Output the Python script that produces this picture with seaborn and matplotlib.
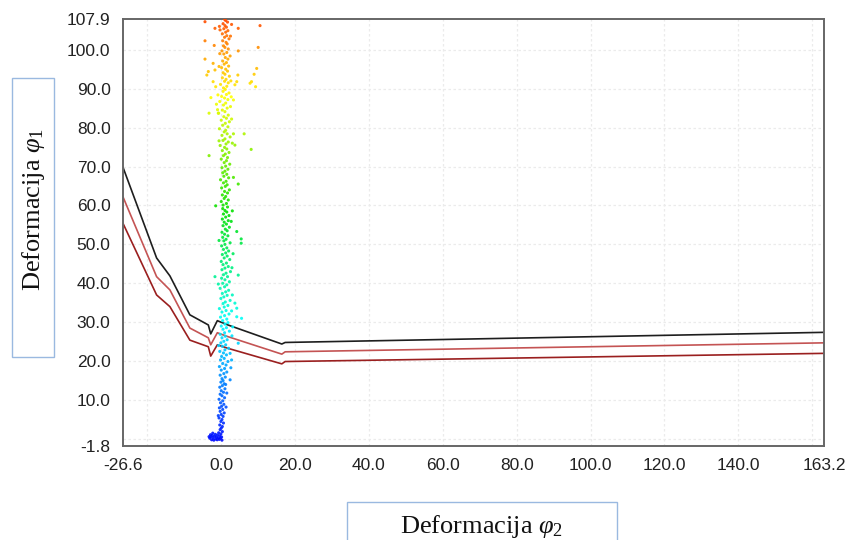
import matplotlib
matplotlib.use("Agg")
import matplotlib.pyplot as plt
from matplotlib.colors import LinearSegmentedColormap
from matplotlib.patches import Rectangle
import seaborn as sns
import pandas as pd

# ---------------- data ----------------
line_x = [-26.6, -17.5, -13.9, -8.5, -3.5, -2.85, -1.06, 1.8, 16.4, 17.3, 163.2]
upper_y = [69.8, 46.5, 41.9, 31.9, 29.3, 27.0, 30.4, 29.3, 24.4, 24.8, 27.4]
middle_y = [62.2, 41.7, 38.3, 28.5, 26.0, 24.2, 27.3, 26.3, 21.8, 22.4, 24.7]
lower_y = [55.4, 37.0, 34.0, 25.4, 23.7, 21.3, 24.2, 23.3, 19.3, 19.9, 22.0]

core_pts = [
    (-3.1,0.2),(-2.8,0.6),(-2.6,-0.2),(-2.4,0.9),(-2.2,0.3),(-2.0,-0.3),(-1.8,0.7),(-1.6,1.2),(-1.5,0.0),
    (-1.3,0.5),(-1.1,-0.2),(-1.0,1.0),(-0.8,0.3),(-0.7,1.6),(-0.5,-0.1),(-0.4,0.8),(-0.2,0.2),(-0.1,1.3),
    (0.1,0.5),(0.2,-0.3),(0.3,1.9),(-0.3,2.4),(0.0,2.8),(-2.9,1.1),(-2.3,1.5),(-3.3,0.6),
    (0.3,3.2),(-0.4,3.6),(0.6,4.1),(-0.1,4.5),(0.2,5.0),(-0.6,5.4),(0.5,5.8),(0.0,6.3),(0.8,6.7),(-0.3,7.1),
    (0.4,7.6),(-0.5,8.0),(0.1,8.4),(0.7,8.9),(-0.2,9.3),(0.4,9.8),(-0.6,10.2),(0.9,10.6),(0.2,11.1),(-0.3,11.5),
    (0.6,12.0),(0.0,12.4),(1.0,12.9),(-0.4,13.3),(0.3,13.7),(0.8,14.2),(-0.1,14.6),(0.5,15.0),
    (1.3,8.2),(1.5,11.8),(-0.8,6.0),(1.2,14.0),
    (0.2,15.5),(1.1,15.9),(-0.3,16.4),(0.7,16.8),(1.5,17.2),(0.0,17.7),(0.9,18.1),(-0.5,18.6),(1.3,19.0),
    (0.4,19.4),(1.8,19.9),(-0.2,20.3),(0.8,20.7),(0.1,21.2),(1.4,21.6),(0.6,22.1),(-0.4,22.5),(1.0,22.9),
    (2.0,23.3),(0.3,23.8),(1.2,24.2),(-0.1,24.7),(0.7,25.1),(1.6,25.5),(0.2,26.0),(1.1,26.4),(-0.3,26.9),
    (0.9,27.3),(2.2,27.7),(0.5,28.2),(1.4,28.6),(0.0,29.0),(1.0,29.5),(1.8,29.9),
    (2.6,18.3),(2.4,22.0),(-0.7,24.0),(2.9,26.5),(3.1,28.8),
    (0.4,30.4),(1.5,30.8),(-0.2,31.3),(0.9,31.7),(2.1,32.1),(0.2,32.6),(1.3,33.0),(-0.5,33.5),(0.8,33.9),
    (1.8,34.3),(0.5,34.8),(1.1,35.2),(2.4,35.6),(-0.1,36.1),(0.7,36.5),(1.6,36.9),(0.3,37.4),(1.2,37.8),
    (2.0,38.2),(-0.3,38.7),(0.9,39.1),(1.5,39.6),(0.4,40.0),(2.2,40.4),(1.0,40.9),(0.1,41.3),(1.7,41.7),
    (0.6,42.2),(1.3,42.6),(2.5,43.0),(0.2,43.5),(1.0,43.9),(1.9,44.3),(0.5,44.8),(1.4,45.2),(0.0,45.6),
    (2.3,46.1),(0.8,46.5),(1.6,47.0),(0.3,47.4),(1.2,47.8),(2.0,48.3),(0.6,48.7),(1.5,49.1),(0.1,49.6),
    (1.0,50.0),(2.4,50.4),(0.7,50.9),(1.3,51.3),(0.4,51.8),(1.8,52.2),(0.9,52.6),(0.2,53.1),(1.6,53.5),
    (1.1,53.9),(2.2,54.4),(0.5,54.8),(1.4,55.2),(0.8,55.7),(1.9,56.1),(0.3,56.5),(1.2,57.0),(2.1,57.4),
    (0.6,57.8),(1.5,58.3),(1.0,58.7),(0.4,59.2),(1.7,59.6),
    (2.8,32.9),(3.0,37.0),(-0.8,39.8),(2.9,44.0),(3.2,47.6),(-0.6,51.0),(2.7,55.9),(3.0,58.6),
    (0.5,60.1),(1.4,60.5),(0.0,61.0),(1.9,61.4),(0.8,61.8),(1.2,62.3),(0.3,62.7),(1.7,63.2),(0.9,63.6),
    (2.2,64.0),(0.1,64.5),(1.1,64.9),(1.6,65.3),(0.6,65.8),(1.3,66.2),(-0.2,66.6),(2.0,67.1),(0.7,67.5),
    (1.5,68.0),(0.4,68.4),(1.0,68.8),(1.8,69.3),(0.2,69.7),(1.2,70.1),(2.3,70.6),(0.8,71.0),(1.4,71.5),
    (0.0,71.9),(1.7,72.3),(0.6,72.8),(1.1,73.2),(2.1,73.6),(0.3,74.1),(1.5,74.5),(0.9,74.9),(-0.3,75.4),
    (1.3,75.8),(1.9,76.3),(0.5,76.7),(1.0,77.1),(2.4,77.6),(0.2,78.0),(1.6,78.4),(0.8,78.9),(1.2,79.3),
    (-0.5,79.7),(1.8,80.2),(0.4,80.6),(1.1,81.1),(2.2,81.5),(0.0,81.9),(1.4,82.4),(0.7,82.8),(1.9,83.2),
    (-0.7,83.7),(1.0,84.1),(0.3,84.5),(1.6,85.0),(2.5,85.4),(0.6,85.8),(1.2,86.3),(-0.4,86.7),(1.8,87.2),
    (0.9,87.6),(0.1,88.0),(1.4,88.5),(2.1,88.9),(0.5,89.3),(1.1,89.8),
    (-1.0,84.6),(-1.3,86.0),(2.8,82.2),(-0.9,88.4),(2.7,87.9),(3.0,76.0),
    (0.6,90.2),(1.5,90.6),(-0.2,91.1),(1.9,91.5),(0.9,91.9),(1.3,92.4),(0.3,92.8),(2.2,93.2),(1.0,93.7),
    (0.5,94.1),(1.7,94.5),(1.2,95.0),(0.1,95.4),(2.0,95.8),(0.8,96.3),(1.4,96.7),(0.4,97.1),(1.8,97.6),
    (1.1,98.0),(2.4,98.4),(0.7,98.9),(1.5,99.3),(0.2,99.7),(1.9,100.2),(1.0,100.6),(0.6,101.0),(1.6,101.5),
    (1.3,101.9),(0.4,102.3),(2.1,102.8),(0.9,103.2),(1.5,103.6),(0.3,104.1),(1.2,104.5),(1.8,104.9),
    (0.7,105.4),(1.4,105.8),(1.0,106.2),(0.5,106.7),(1.7,107.1),(1.2,107.5),(0.9,107.8),
    (-0.6,95.7),(2.6,92.0),(-0.4,99.0),(2.5,103.5),(-0.5,106.0),
]
outlier_pts = [
    (-4.4,107.2),(-1.7,105.5),(-0.34,105.1),(2.8,106.5),(4.6,105.5),(10.5,106.2),(-4.4,102.3),(-1.9,101.1),
    (4.6,99.7),(10.0,100.6),(-4.4,97.6),(-2.2,96.5),(-3.5,94.4),(-3.9,93.5),(-1.7,94.8),(4.5,93.5),
    (9.6,95.2),(8.9,93.7),(8.2,91.8),(7.8,91.4),(9.3,90.5),(3.7,91.0),(4.2,91.8),(-2.2,91.8),(-1.5,90.5),
    (-2.8,87.7),(3.3,87.1),(-3.3,83.7),(-0.8,83.7),
    (3.3,78.4),(6.2,78.4),(-0.6,76.6),(3.7,75.5),(8.1,74.4),(-3.3,72.8),(3.3,67.2),(4.6,65.5),(-1.5,59.9),
    (4.2,53.3),(5.4,51.4),(5.4,50.3),(-1.7,41.7),(4.6,42.1),(3.7,34.9),(4.2,33.6),(5.5,31.0),(4.2,31.4),
    (4.6,24.6),(2.8,20.3),(2.4,15.2),
]
scatter_x = [p[0] for p in core_pts + outlier_pts]
scatter_y = [p[1] for p in core_pts + outlier_pts]

x_ticks = [-26.6, 0.0, 20.0, 40.0, 60.0, 80.0, 100.0, 120.0, 140.0, 163.2]
y_ticks = [-1.8, 10.0, 20.0, 30.0, 40.0, 50.0, 60.0, 70.0, 80.0, 90.0, 100.0, 107.9]
x_grid = [-20, 0, 20, 40, 60, 80, 100, 120, 140, 160]
y_grid = [0, 10, 20, 30, 40, 50, 60, 70, 80, 90, 100]
x_label = r"Deformacija $\varphi_2$"
y_label = r"Deformacija $\varphi_1$"

# ---------------- style ----------------
sns.set_style("white")
plt.rcParams["font.family"] = ["Liberation Sans", "DejaVu Sans"]
plt.rcParams["mathtext.fontset"] = "custom"
plt.rcParams["mathtext.rm"] = "Liberation Serif"
plt.rcParams["mathtext.it"] = "Liberation Serif:italic"

fig = plt.figure(figsize=(8.5, 5.4), dpi=100)
ax = fig.add_axes([123/850, 1-446/540, (824-123)/850, (446-19)/540])

for gx in x_grid:
    ax.axvline(gx, color="#ebebeb", lw=0.9, ls=(0, (2, 2)), zorder=0)
for gy in y_grid:
    ax.axhline(gy, color="#ebebeb", lw=0.9, ls=(0, (2, 2)), zorder=0)

sns.lineplot(x=line_x, y=upper_y, sort=False, estimator=None, color="#1e1e1e", lw=1.2, ax=ax, zorder=2)
sns.lineplot(x=line_x, y=middle_y, sort=False, estimator=None, color="#c45454", lw=1.2, ax=ax, zorder=2)
sns.lineplot(x=line_x, y=lower_y, sort=False, estimator=None, color="#9a1f1f", lw=1.2, ax=ax, zorder=2)

cmap = LinearSegmentedColormap.from_list(
    "rainbow_y",
    [(0.0, "#0000ff"), (0.29, "#00ffff"), (0.545, "#00e000"), (0.82, "#ffff00"), (1.0, "#ff4a00")])
df = pd.DataFrame({"x": scatter_x, "y": scatter_y})
sns.scatterplot(data=df, x="x", y="y", hue="y", palette=cmap, hue_norm=(-1.8, 107.9),
                legend=False, s=5, linewidth=0, alpha=0.9, ax=ax, zorder=3)

ax.set_xlim(-26.6, 163.2)
ax.set_ylim(-1.8, 107.9)
ax.set_xticks(x_ticks)
ax.set_yticks(y_ticks)
ax.set_xticklabels([f"{v:.1f}" for v in x_ticks])
ax.set_yticklabels([f"{v:.1f}" for v in y_ticks])
ax.tick_params(axis="both", labelsize=12.5, labelcolor="#222222", color="#555555",
               length=6, width=1.2, direction="out", pad=3)
ax.set_xlabel("")
ax.set_ylabel("")
for sp in ax.spines.values():
    sp.set_color("#666666")
    sp.set_linewidth(1.4)

# axis titles in framed boxes
fig.patches.append(Rectangle((12/850, 1-357/540), 42/850, 279/540, transform=fig.transFigure,
                             fill=False, edgecolor="#9ab9e0", lw=1.0))
fig.text(34/850, 1-209/540, y_label, rotation=90, ha="center", va="center",
         family="Liberation Serif", fontsize=19, color="#111111")
fig.patches.append(Rectangle((347/850, -0.05), 270/850, (1-502/540)+0.05, transform=fig.transFigure,
                             fill=False, edgecolor="#9ab9e0", lw=1.0))
fig.text(482/850, 1-533/540, x_label, ha="center", va="baseline",
         family="Liberation Serif", fontsize=19, color="#111111")

fig.savefig("out.png", dpi=100)
